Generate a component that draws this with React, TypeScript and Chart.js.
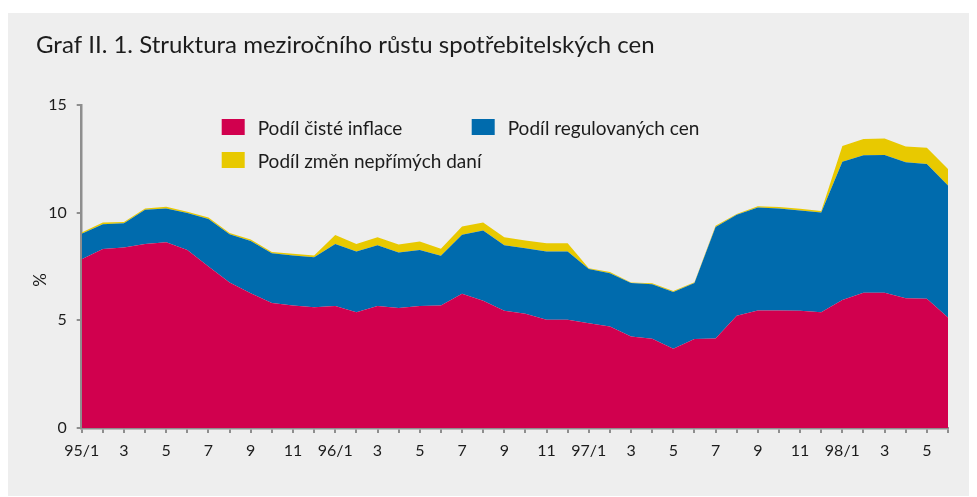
import React, { useEffect, useRef } from 'react';
import { Chart, registerables } from 'chart.js';

Chart.register(...registerables);

const categories = [
  '95/1', '95/2', '95/3', '95/4', '95/5', '95/6', '95/7', '95/8', '95/9', '95/10', '95/11', '95/12',
  '96/1', '96/2', '96/3', '96/4', '96/5', '96/6', '96/7', '96/8', '96/9', '96/10', '96/11', '96/12',
  '97/1', '97/2', '97/3', '97/4', '97/5', '97/6', '97/7', '97/8', '97/9', '97/10', '97/11', '97/12',
  '98/1', '98/2', '98/3', '98/4', '98/5', '98/6',
];

const tickLabels = [
  '95/1', '', '3', '', '5', '', '7', '', '9', '', '11', '',
  '96/1', '', '3', '', '5', '', '7', '', '9', '', '11', '',
  '97/1', '', '3', '', '5', '', '7', '', '9', '', '11', '',
  '98/1', '', '3', '', '5', '',
];

const cistaInflace = [
  7.84, 8.31, 8.38, 8.55, 8.63, 8.27, 7.5, 6.76, 6.26, 5.8, 5.69, 5.61,
  5.67, 5.37, 5.67, 5.57, 5.67, 5.69, 6.23, 5.91, 5.44, 5.3, 5.03, 5.03,
  4.87, 4.71, 4.25, 4.14, 3.68, 4.13, 4.16, 5.21, 5.46, 5.46, 5.44, 5.38,
  5.95, 6.28, 6.28, 6.03, 6.0, 5.13,
];

const regulovaneCeny = [
  1.18, 1.15, 1.13, 1.58, 1.56, 1.71, 2.21, 2.24, 2.43, 2.32, 2.32, 2.32,
  2.87, 2.83, 2.82, 2.58, 2.6, 2.31, 2.74, 3.26, 3.05, 3.05, 3.17, 3.17,
  2.51, 2.48, 2.48, 2.54, 2.63, 2.6, 5.17, 4.69, 4.78, 4.73, 4.66, 4.63,
  6.41, 6.39, 6.4, 6.31, 6.26, 6.13,
];

const neprimeDane = [
  0.06, 0.08, 0.06, 0.06, 0.08, 0.06, 0.06, 0.05, 0.06, 0.05, 0.08, 0.08,
  0.42, 0.35, 0.37, 0.37, 0.39, 0.33, 0.39, 0.37, 0.37, 0.36, 0.38, 0.38,
  0.04, 0.05, 0.03, 0.04, 0.05, 0.04, 0.06, 0.04, 0.06, 0.07, 0.08, 0.07,
  0.74, 0.75, 0.77, 0.73, 0.76, 0.77,
];

const seriesNames = ['Podíl čisté inflace', 'Podíl regulovaných cen', 'Podíl změn nepřímých daní'];
const TITLE = 'Graf II. 1. Struktura meziročního růstu spotřebitelských cen';
const Y_TITLE = '%';

const RED = '#d1004e';
const BLUE = '#006bad';
const YELLOW = '#e8c900';
const AXIS = '#8e8e8e';
const TEXT = '#1c1c1c';
const FONT = 'Lato';

const decorPlugin = {
  id: 'decor',
  afterDraw(chart: any) {
    const ctx = chart.ctx as CanvasRenderingContext2D;
    const ca = chart.chartArea;
    ctx.save();
    ctx.fillStyle = TEXT;
    ctx.textBaseline = 'alphabetic';
    ctx.textAlign = 'left';
    // title
    ctx.font = `24px ${FONT}`;
    ctx.fillText(TITLE, 28, 40);
    // legend
    const items = [
      { label: seriesNames[0], color: RED, x: ca.left + 140, y: 106 },
      { label: seriesNames[1], color: BLUE, x: ca.left + 390, y: 106 },
      { label: seriesNames[2], color: YELLOW, x: ca.left + 140, y: 139 },
    ];
    ctx.font = `19px ${FONT}`;
    for (const it of items) {
      ctx.fillStyle = it.color;
      ctx.fillRect(it.x, it.y, 23, 16);
      ctx.fillStyle = TEXT;
      ctx.fillText(it.label, it.x + 36, it.y + 16);
    }
    // y axis title
    ctx.font = `17px ${FONT}`;
    ctx.translate(33, 267);
    ctx.rotate(-Math.PI / 2);
    ctx.textAlign = 'center';
    ctx.textBaseline = 'middle';
    ctx.fillText(Y_TITLE, 0, 0);
    ctx.restore();
  },
};

export default function App() {
  const ref = useRef<HTMLCanvasElement>(null);

  useEffect(() => {
    if (!ref.current) return;
    const chart = new Chart(ref.current, {
      type: 'line',
      data: {
        labels: categories,
        datasets: [
          {
            label: seriesNames[0],
            data: cistaInflace,
            backgroundColor: RED,
            borderWidth: 0,
            pointRadius: 0,
            fill: 'origin',
            tension: 0,
          },
          {
            label: seriesNames[1],
            data: regulovaneCeny,
            backgroundColor: BLUE,
            borderWidth: 0,
            pointRadius: 0,
            fill: '-1',
            tension: 0,
          },
          {
            label: seriesNames[2],
            data: neprimeDane,
            backgroundColor: YELLOW,
            borderWidth: 0,
            pointRadius: 0,
            fill: '-1',
            tension: 0,
          },
        ],
      },
      options: {
        animation: false,
        responsive: true,
        maintainAspectRatio: false,
        layout: { padding: { top: 92, right: 29, bottom: 38, left: 0 } },
        plugins: {
          legend: { display: false },
          title: { display: false },
          tooltip: { enabled: false },
        },
        scales: {
          x: {
            offset: false,
            afterFit: (s: any) => { s.height = 30; },
            grid: {
              drawOnChartArea: false,
              drawTicks: true,
              tickLength: 5,
              color: AXIS,
              lineWidth: 2,
            },
            border: { display: true, color: AXIS, width: 2.5 },
            ticks: {
              autoSkip: false,
              maxRotation: 0,
              minRotation: 0,
              padding: 8,
              color: TEXT,
              font: { family: FONT, size: 16 },
              callback: (_v: any, i: number) => tickLabels[i],
            },
          },
          y: {
            stacked: true,
            min: 0,
            max: 15,
            afterFit: (s: any) => { s.width = 73.7; },
            grid: {
              drawOnChartArea: false,
              drawTicks: true,
              tickLength: 5,
              color: AXIS,
              lineWidth: 2,
            },
            border: { display: true, color: AXIS, width: 2.5 },
            ticks: {
              stepSize: 5,
              padding: 10,
              color: TEXT,
              font: { family: FONT, size: 16 },
            },
          },
        },
      },
      plugins: [decorPlugin],
    });
    return () => chart.destroy();
  }, []);

  return (
    <div
      style={{
        marginTop: 5,
        marginRight: -8,
        height: 483,
        background: '#eeeeee',
        position: 'relative',
      }}
    >
      <canvas ref={ref} />
    </div>
  );
}
